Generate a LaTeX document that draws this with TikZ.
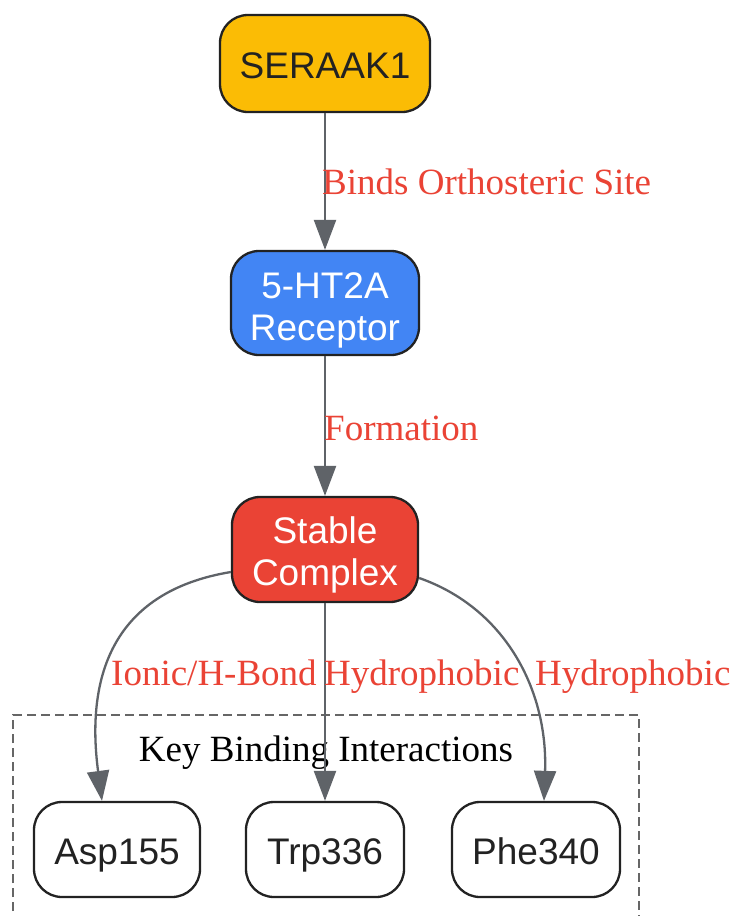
\documentclass[tikz,border=0pt]{standalone}
\usepackage{fontspec}
\setmainfont{Liberation Serif}
\setsansfont{Liberation Sans}
\usetikzlibrary{arrows.meta}
\definecolor{gyellow}{HTML}{FBBC05}
\definecolor{gblue}{HTML}{4285F4}
\definecolor{gred}{HTML}{EA4335}
\definecolor{edgegray}{HTML}{5F6368}
\definecolor{darktext}{HTML}{222222}
\definecolor{clustergray}{HTML}{666666}
\tikzset{
  box/.style={draw=darktext, line width=2.3pt, rounded corners=28pt, inner sep=0pt,
    align=center, font=\sffamily\fontsize{37}{42}\selectfont, text=darktext},
  oneline/.style={text height=29pt, text depth=0pt},
  twoline/.style={text height=#1, text depth=0pt},
  conn/.style={draw=edgegray, line width=2.3pt, -{Triangle[length=30pt,width=22pt]}},
  elabel/.style={text=gred, font=\fontsize{37}{40}\selectfont, inner sep=0pt},
}
\begin{document}
\begin{tikzpicture}[x=1pt,y=-1pt]
\useasboundingbox (0,0) rectangle (734,916);
\fill[white] (0,0) rectangle (734,916);
% cluster
\draw[clustergray, line width=2pt, dash pattern=on 9pt off 5pt] (13,925) -- (13,715) -- (639,715) -- (639,925);
\node[anchor=base, font=\fontsize{37}{40}\selectfont, inner sep=0pt] (cl) at (326,761) {Key Binding Interactions};
% nodes
\node[box, oneline, fill=gyellow, minimum width=210pt, minimum height=97pt] (s) at (325,63.5) {SERAAK1};
\node[box, twoline=74pt, fill=gblue, text=white, minimum width=188pt, minimum height=104pt] (r) at (325,303) {5-HT2A\\Receptor};
\node[box, twoline=72pt, fill=gred, text=white, minimum width=186pt, minimum height=105pt] (c) at (325,549.5) {Stable\\Complex};
\node[box, oneline, fill=white, minimum width=166pt, minimum height=95pt] (a) at (117,849.5) {Asp155};
\node[box, oneline, fill=white, minimum width=158pt, minimum height=95pt] (t) at (325,849.5) {Trp336};
\node[box, oneline, fill=white, minimum width=168pt, minimum height=95pt] (p) at (536,849.5) {Phe340};
% edges
\draw[conn] (s.south) -- (r.north);
\draw[conn] (r.south) -- (c.north);
\draw[conn] ([yshift=-22.5pt]c.west) .. controls (110,592) and (86,680) .. ([xshift=-15pt]a.north);
\draw[conn] (c.south) -- (t.north);
\draw[conn] ([yshift=-28.5pt]c.east) .. controls (505,608) and (548,690) .. ([xshift=8pt]p.north);
% edge labels
\node[elabel, anchor=base west] (l1) at (322,194) {Binds Orthosteric Site};
\node[elabel, anchor=base west] (l2) at (324,440) {Formation};
\node[elabel, anchor=base west] (l3) at (111,685) {Ionic/H-Bond};
\node[elabel, anchor=base west] (l4) at (324,685) {Hydrophobic};
\node[elabel, anchor=base west] (l5) at (535,685) {Hydrophobic};
\end{tikzpicture}
\end{document}
